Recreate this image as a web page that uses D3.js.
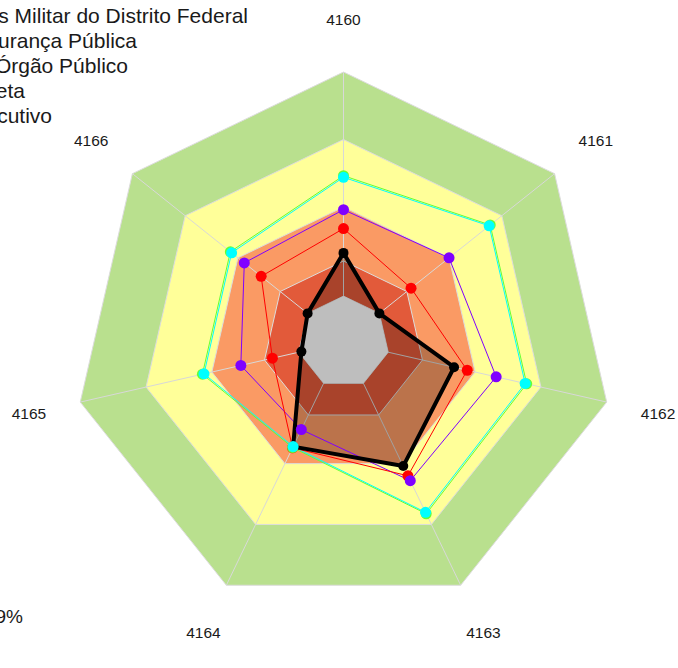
<!DOCTYPE html>
<html><head><meta charset="utf-8">
<script src="https://cdn.jsdelivr.net/npm/d3@7"></script>
<style>
body{margin:0;background:#fff}
svg{display:block}
text{font-family:"Liberation Sans",Arial,sans-serif;fill:#1a1a1a}
</style>
</head><body>
<svg id="chart" width="678" height="668"></svg>
<script>
// ---- data ----
const axes = ["4160","4161","4162","4163","4164","4165","4166"];
const seriesNames = [
  "Corpo de Bombeiros Militar do Distrito Federal",
  "Secretaria de Segurança Pública",
  "Outro Órgão Público",
  "Meta",
  "Executivo"
];
const cbmdf   = [33, 17, 42, 51, 43, 16, 17];
const ssp     = [42, 32, 47, 55, 43.5, 27, 39];
const outro   = [49, 50, 58, 57, 36, 39, 47];
const meta    = [61.6, 69.5, 69.6, 70.6, 43.4, 53.6, 53.6];
const executivo = [61, 69, 69, 70, 43, 53, 53];
const bandLimits = [17, 30, 50, 75, 100];
const footText = "9%";

// ---- layout ----
const W = 678, H = 668;
const cx = 343.5, cy = 342, R = 270;
const svg = d3.select("#chart");
const r = d3.scaleLinear().domain([0, 100]).range([0, R]);
const ang = d3.scalePoint().domain(axes).range([0, 2*Math.PI*(axes.length-1)/axes.length]);
const pt = (a, v) => {
  const t = ang(a) - Math.PI/2;
  return [cx + r(v)*Math.cos(t), cy + r(v)*Math.sin(t)];
};
const ring = v => axes.map(a => pt(a, v));
const line = d3.line().curve(d3.curveLinearClosed);

const bandColors = ["#bebebe", "#e25a3a", "#fa9a64", "#ffff99", "#b9e08e"];

const g = svg.append("g");
// bands from outer to inner (except grey core drawn later)
for (let i = bandLimits.length - 1; i >= 1; i--) {
  g.append("path").attr("d", line(ring(bandLimits[i]))).attr("fill", bandColors[i]);
}
// grid rings
bandLimits.forEach(v => {
  g.append("path").attr("d", line(ring(v))).attr("fill", "none")
    .attr("stroke", "#dcdcdc").attr("stroke-width", 1);
});
// spokes
axes.forEach(a => {
  const [x, y] = pt(a, 100);
  g.append("line").attr("x1", cx).attr("y1", cy).attr("x2", x).attr("y2", y)
    .attr("stroke", "#d8d8d8").attr("stroke-width", 1);
});

// black series fill
g.append("path").attr("d", line(axes.map((a,i) => pt(a, cbmdf[i]))))
  .attr("fill", "#000").attr("fill-opacity", 0.25);

// grey core
g.append("path").attr("d", line(ring(bandLimits[0]))).attr("fill", bandColors[0]);

// axis labels
axes.forEach(a => {
  const [x, y] = pt(a, 119.5);
  g.append("text").attr("x", x).attr("y", y).attr("text-anchor", "middle")
    .attr("dominant-baseline", "central").attr("font-size", 15.5).text(a);
});

// series
const series = [
  {name: seriesNames[3], vals: meta, color: "#66ff33", w: 1, pr: 5.5},
  {name: seriesNames[4], vals: executivo, color: "#00ffff", w: 1, pr: 5.5},
  {name: seriesNames[2], vals: outro, color: "#8000ff", w: 1, pr: 5.5},
  {name: seriesNames[1], vals: ssp, color: "#ff0000", w: 1, pr: 5.5},
  {name: seriesNames[0], vals: cbmdf, color: "#000000", w: 4, pr: 5}
];
series.forEach(s => {
  g.append("path").attr("d", line(axes.map((a,i) => pt(a, s.vals[i]))))
    .attr("fill", "none").attr("stroke", s.color).attr("stroke-width", s.w)
    .attr("stroke-linejoin", "round");
});
[series[4], series[3], series[2], series[0], series[1]].forEach(s => {
  g.selectAll(null).data(s.vals).enter().append("circle")
    .attr("cx", (d,i) => pt(axes[i], d)[0])
    .attr("cy", (d,i) => pt(axes[i], d)[1])
    .attr("r", s.pr).attr("fill", s.color);
});

// legend (cut off at the left edge, as in the reference)
const legendEnds = [248, 137, 128, 25, 52];
seriesNames.forEach((n, i) => {
  svg.append("text").attr("x", legendEnds[i]).attr("y", 23 + i*25)
    .attr("text-anchor", "end").attr("font-size", 21).text(n);
});
svg.append("text").attr("x", 23).attr("y", 623).attr("text-anchor", "end")
  .attr("font-size", 19).text(footText);
</script>
</body></html>
